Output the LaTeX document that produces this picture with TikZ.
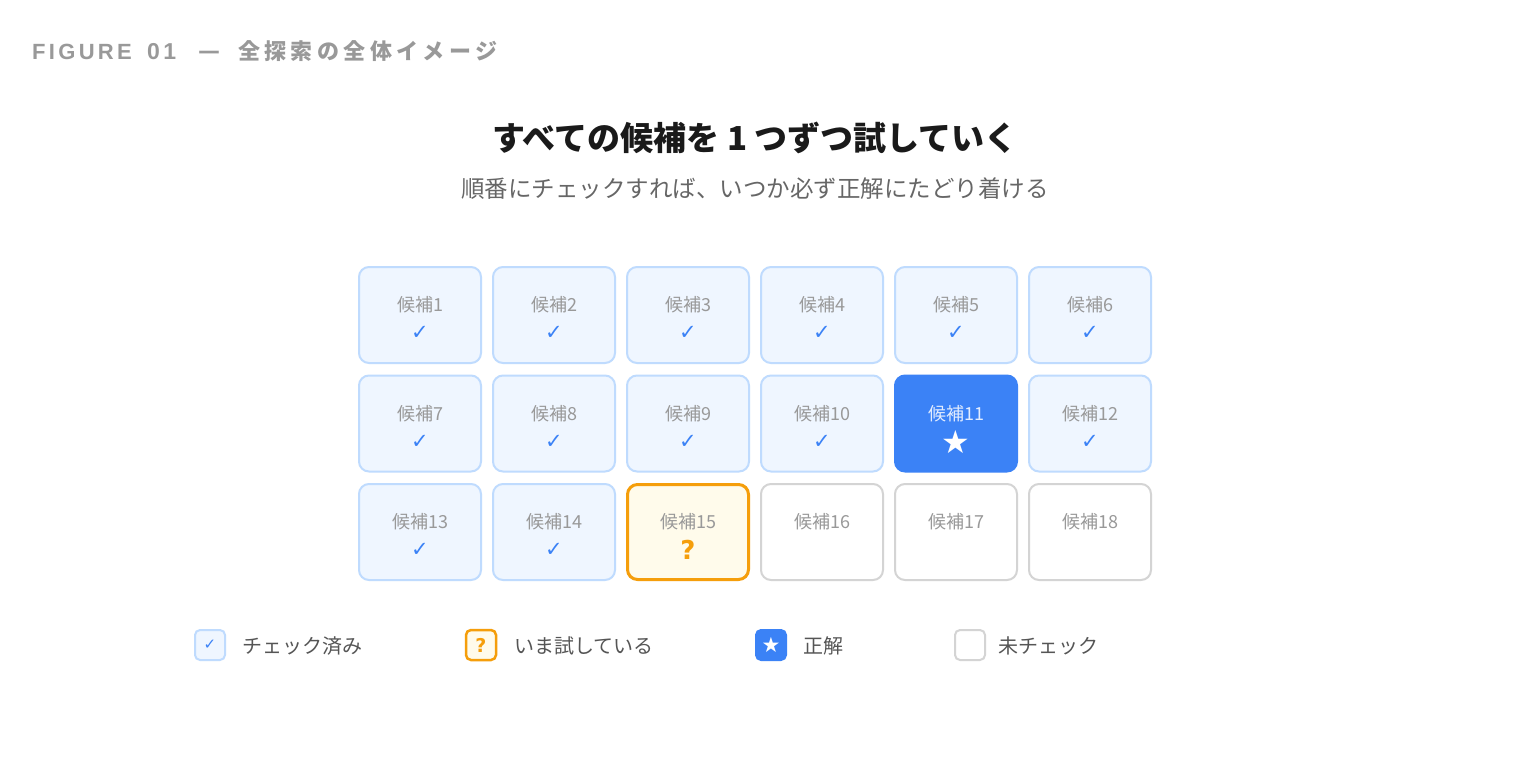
\documentclass[tikz,border=0pt]{standalone}
\usepackage{fontspec}
\setmainfont{Noto Sans CJK JP}
\newfontfamily\headfont[LetterSpace=20]{Noto Sans CJK JP}
\newfontfamily\headlatin[LetterSpace=15]{Liberation Sans}
\newfontfamily\symfont{DejaVu Sans}
\usetikzlibrary{calc}
\definecolor{chkfill}{HTML}{EFF6FF}
\definecolor{chkline}{HTML}{BFDBFE}
\definecolor{ansblue}{HTML}{3B82F6}
\definecolor{curfill}{HTML}{FFFBEB}
\definecolor{curline}{HTML}{F59E0B}
\definecolor{offline}{HTML}{D4D4D4}
\definecolor{lblgray}{HTML}{999999}
\definecolor{subgray}{HTML}{666666}
\definecolor{keygray}{HTML}{555555}
\definecolor{titleblack}{HTML}{1A1A1A}
\tikzstyle{cell}=[rectangle, rounded corners=10pt, minimum width=122pt, minimum height=96pt, line width=2pt, inner sep=0pt, anchor=center]
\tikzstyle{done}=[cell, fill=chkfill, draw=chkline]
\tikzstyle{now}=[cell, fill=curfill, draw=curline, line width=3pt, minimum width=121pt, minimum height=95pt]
\tikzstyle{hit}=[cell, fill=ansblue, draw=ansblue]
\tikzstyle{todo}=[cell, fill=white, draw=offline]
\tikzstyle{lbl}=[inner sep=0pt, text=lblgray, font=\fontsize{18}{18}\selectfont]
\tikzstyle{lblhit}=[lbl, text=white!85!ansblue]
\tikzstyle{annot}=[inner sep=0pt, align=center]
\tikzstyle{head}=[annot, anchor=base west, text=lblgray]
\tikzstyle{keybox}=[rectangle, rounded corners=5pt, minimum size=30pt, line width=2pt, inner sep=0pt]
\tikzstyle{keytext}=[annot, anchor=west, text=keygray, font=\fontsize{20}{20}\selectfont]
\newcommand{\markchk}{\textcolor{ansblue}{\fontsize{21}{21}\symfont ✓}}
\newcommand{\markhit}{\textcolor{white}{\fontsize{32}{32}\symfont ★}}
\newcommand{\markcur}{\textcolor{curline}{\fontsize{26}{26}\symfont\bfseries ?}}
\newcommand{\cand}[6]
{
  \node[#4](cand#1) at (#2,#3){};
  \path let \p1 = (cand#1.center) in node[#5] at (\x1,\y1+10pt){候補#1};
  \path let \p1 = (cand#1.center) in node[annot] at (\x1,\y1-18pt){#6};
}

\begin{document}
\begin{tikzpicture}[x=1pt, y=-1pt]
	\useasboundingbox[fill=white] (0,0) rectangle (1516,766);

	\node[head, font=\fontsize{22}{22}\headlatin\bfseries](headfig) at (32,59){FIGURE};
	\node[head, font=\fontsize{23}{23}\headlatin\bfseries](headnum) at (147,59){01};
	\node[head, anchor=base, font=\fontsize{24}{24}\selectfont\bfseries](headdash) at (209.5,59){—};
	\node[head, font=\fontsize{22}{22}\headfont\bfseries](headjp) at (238,59){全探索の全体イメージ};
	\node[annot, text=titleblack, font=\fontsize{33}{33}\selectfont\bfseries](title) at (755,138){すべての候補を 1 つずつ試していく};
	\node[annot, below of=title, node distance=51pt, text=subgray, font=\fontsize{23.5}{23.5}\selectfont](sub){順番にチェックすれば、いつか必ず正解にたどり着ける};

	\cand{1}{420}{315}{done}{lbl}{\markchk}
	\cand{2}{554}{315}{done}{lbl}{\markchk}
	\cand{3}{688}{315}{done}{lbl}{\markchk}
	\cand{4}{822}{315}{done}{lbl}{\markchk}
	\cand{5}{956}{315}{done}{lbl}{\markchk}
	\cand{6}{1090}{315}{done}{lbl}{\markchk}
	\cand{7}{420}{423.5}{done}{lbl}{\markchk}
	\cand{8}{554}{423.5}{done}{lbl}{\markchk}
	\cand{9}{688}{423.5}{done}{lbl}{\markchk}
	\cand{10}{822}{423.5}{done}{lbl}{\markchk}
	\cand{11}{956}{423.5}{hit}{lblhit}{\markhit}
	\cand{12}{1090}{423.5}{done}{lbl}{\markchk}
	\cand{13}{420}{532}{done}{lbl}{\markchk}
	\cand{14}{554}{532}{done}{lbl}{\markchk}
	\cand{15}{688}{532}{now}{lbl}{\markcur}
	\cand{16}{822}{532}{todo}{lbl}{}
	\cand{17}{956}{532}{todo}{lbl}{}
	\cand{18}{1090}{532}{todo}{lbl}{}

	% legend
	\node[keybox, fill=chkfill, draw=chkline](keydone) at (210,645){\textcolor{ansblue}{\fontsize{15}{15}\symfont ✓}};
	\node[keytext] at (242,646){チェック済み};
	\node[keybox, fill=curfill, draw=curline, line width=2.5pt](keynow) at (481,645){\textcolor{curline}{\fontsize{19}{19}\symfont\bfseries ?}};
	\node[keytext] at (514,646){いま試している};
	\node[keybox, fill=ansblue, draw=ansblue](keyhit) at (771,645){\textcolor{white}{\fontsize{21}{21}\symfont ★}};
	\node[keytext] at (803,646){正解};
	\node[keybox, fill=white, draw=offline](keytodo) at (970,645){};
	\node[keytext] at (998,646){未チェック};

\end{tikzpicture}
\end{document}
